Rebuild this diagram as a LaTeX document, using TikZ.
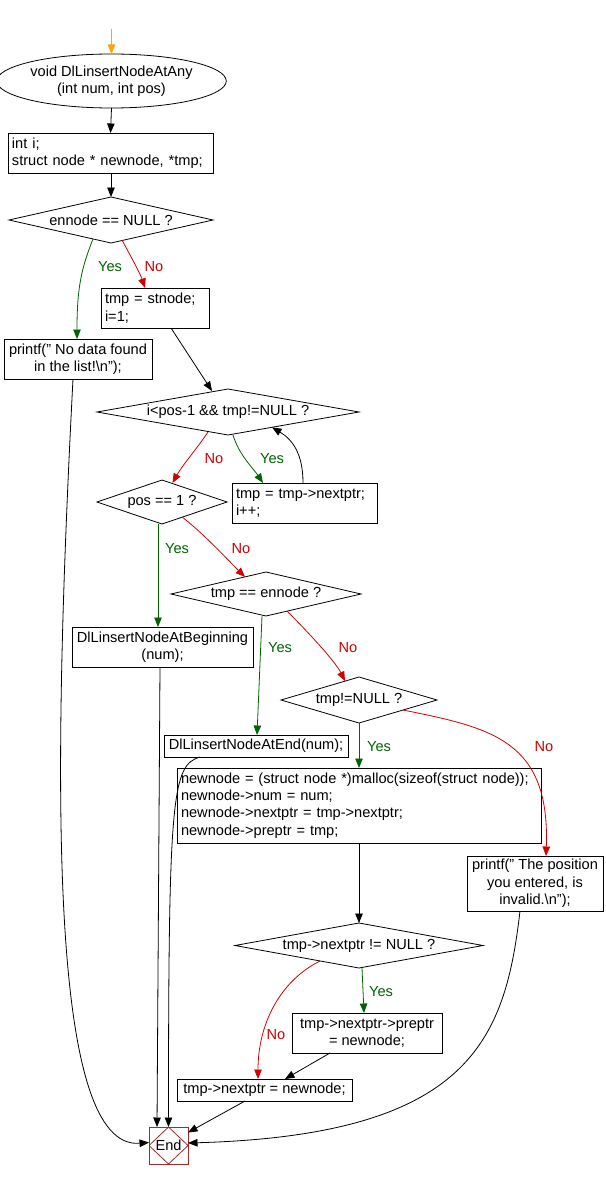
\documentclass[tikz,border=0pt]{standalone}
\usepackage{fontspec}
\setmainfont{Liberation Sans}
\usetikzlibrary{shapes.geometric,arrows.meta}
\definecolor{yesc}{RGB}{0,100,0}
\definecolor{noc}{RGB}{210,0,0}
\definecolor{endc}{RGB}{165,42,42}
\definecolor{startc}{RGB}{255,165,0}
\begin{document}
\begin{tikzpicture}[x=1pt,y=-1pt,
  font=\fontsize{14.6pt}{17.3pt}\selectfont,
  every node/.style={inner sep=0pt, outer sep=0pt},
  lbox/.style={draw, rectangle, line width=0.8pt, align=left, inner xsep=4pt},
  cbox/.style={draw, rectangle, line width=0.8pt, align=center},
  ell/.style={draw, ellipse, line width=0.8pt, align=center},
  dia/.style={draw, diamond, line width=0.8pt},
  endbox/.style={draw=endc, rectangle, line width=0.8pt,
    path picture={\draw[endc, line width=0.8pt] (path picture bounding box.north) -- (path picture bounding box.east) -- (path picture bounding box.south) -- (path picture bounding box.west) -- cycle;}},
  arr/.style={-{Triangle[length=9.5pt,width=7.5pt]}, line width=0.8pt},
  yesarr/.style={arr, draw=yesc},
  noarr/.style={arr, draw=noc},
  startarr/.style={arr, draw=startc},
  yesl/.style={text=yesc},
  nol/.style={text=noc}
]
\useasboundingbox (0,0) rectangle (605,1180);

% nodes
\node[ell, minimum width=191pt, minimum height=54pt] (st) at (111.5,81) {void DlLinsertNodeAtAny\\(int num, int pos)};
\node[lbox, minimum width=205pt, minimum height=40pt, text width=197pt] (b1) at (110.5,153) {int i;\\struct node * newnode, *tmp;};
\node[dia, minimum width=204pt, minimum height=46pt, aspect=4.4] (d1) at (111,220) {ennode == NULL ?};
\node[cbox, minimum width=148pt, minimum height=40pt] (p1) at (78,359) {printf(" No data found\\in the list!\textbackslash n");};
\node[lbox, minimum width=108pt, minimum height=40pt, text width=100pt] (b2) at (155,308) {tmp = stnode;\\i=1;};
\node[dia, minimum width=262pt, minimum height=46pt, aspect=5.7] (d2) at (228,412) {i<pos-1 \&\& tmp!=NULL ?};
\node[lbox, minimum width=145pt, minimum height=40pt, text width=137pt] (b3) at (304.5,503) {tmp = tmp->nextptr;\\i++;};
\node[dia, minimum width=130pt, minimum height=44pt, aspect=2.95] (d3) at (162,502) {pos == 1 ?};
\node[cbox, minimum width=181pt, minimum height=40pt] (b4) at (162.5,647) {DlLinsertNodeAtBeginning\\(num);};
\node[dia, minimum width=190pt, minimum height=44pt, aspect=4.3] (d4) at (266,594) {tmp == ennode ?};
\node[dia, minimum width=156pt, minimum height=46pt, aspect=3.4] (d5) at (359,700) {tmp!=NULL ?};
\node[cbox, minimum width=184pt, minimum height=22pt] (b5) at (256,746) {DlLinsertNodeAtEnd(num);};
\node[lbox, minimum width=364pt, minimum height=75pt, text width=356pt] (b6) at (359,805.5) {newnode = (struct node *)malloc(sizeof(struct node));\\newnode->num = num;\\newnode->nextptr = tmp->nextptr;\\newnode->preptr = tmp;};
\node[cbox, minimum width=136pt, minimum height=55pt] (b7) at (535,883.5) {printf(" The position\\you entered, is\\invalid.\textbackslash n");};
\node[dia, minimum width=248pt, minimum height=45pt, aspect=5.5] (d6) at (359,945.5) {tmp->nextptr != NULL ?};
\node[cbox, minimum width=150pt, minimum height=40pt] (b8) at (367,1033) {tmp->nextptr->preptr\\= newnode;};
\node[cbox, minimum width=175pt, minimum height=22pt] (b9) at (264.5,1090) {tmp->nextptr = newnode;};
\node[endbox, minimum width=39pt, minimum height=37pt] (en) at (168.5,1145.5) {End};

% labels
\node[yesl] (y1) at (110,267) {Yes};
\node[nol] (n1) at (154,267) {No};
\node[nol] (n2) at (214,459) {No};
\node[yesl] (y2) at (272,459) {Yes};
\node[yesl] (y3) at (177,549) {Yes};
\node[nol] (n3) at (241,549) {No};
\node[yesl] (y4) at (280,648) {Yes};
\node[nol] (n4) at (348,648) {No};
\node[yesl] (y5) at (379,747) {Yes};
\node[nol] (n5) at (544,747) {No};
\node[yesl] (y6) at (381,992) {Yes};
\node[nol] (n6) at (276,1035) {No};

% connectors
\coordinate (s0) at (111.5,29);
\draw[startarr] (s0) -- (st.north);
\draw[arr] (st.south) -- (b1.north);
\draw[arr] (d1.north |- b1.south) -- (d1.north);

\draw[yesarr] ([xshift=-18pt,yshift=4pt]d1.south) .. controls +(-12,30) and +(0,-50) .. ([xshift=-1pt]p1.north);
\draw[noarr] ([xshift=11pt,yshift=3pt]d1.south) .. controls +(8,15) and +(-5,-15) .. ([xshift=-10pt]b2.north);
\draw[arr] ([xshift=16pt]b2.south) -- ([xshift=-16pt,yshift=-2pt]d2.north);

\draw[noarr] ([xshift=-20pt,yshift=3pt]d2.south) .. controls +(-12,18) and +(10,-18) .. ([xshift=10.5pt,yshift=-3pt]d3.north);
\draw[yesarr] ([xshift=5pt]d2.south) .. controls +(6,20) and +(-10,-15) .. ([xshift=-41.5pt]b3.north);
\draw[arr] ([xshift=-1.5pt]b3.north) .. controls +(0,-30) and +(20,12) .. ([xshift=44pt,yshift=7.7pt]d2.south);

\draw[yesarr] ([xshift=-4pt]d3.south) -- ([xshift=-4.5pt]b4.north);
\draw[noarr] ([xshift=20pt,yshift=7pt]d3.south) .. controls +(20,15) and +(-15,-15) .. ([xshift=-21pt,yshift=-5pt]d4.north);

\draw[yesarr] ([xshift=-4pt]d4.south) -- ([xshift=1pt]b5.north);
\draw[noarr] ([xshift=21pt,yshift=5pt]d4.south) .. controls +(20,20) and +(-10,-20) .. ([xshift=-14pt,yshift=-4pt]d5.north);

\draw[yesarr] (d5.south) -- (b6.north);
\draw[noarr] ([xshift=44pt,yshift=13pt]d5.south) .. controls +(90,18) and +(4,-115) .. ([xshift=11pt]b7.north);

\draw[arr] (b6.south) -- (d6.north);
\draw[yesarr] ([xshift=3pt]d6.south) -- ([xshift=-3pt]b8.north);
\draw[noarr] ([xshift=-39pt,yshift=7pt]d6.south) .. controls +(-40,20) and +(0,-55) .. ([xshift=-6.5pt]b9.north);
\draw[arr] ([xshift=-37pt]b8.south) -- ([xshift=20.5pt]b9.north);

\draw[arr] ([xshift=-19.5pt]b9.south) -- ([yshift=13pt]en.east);
\draw[arr] ([xshift=-15pt]b7.south) .. controls +(-15,129) and +(282,-8) .. ([yshift=2.5pt]en.east);
\draw[arr] ([xshift=-5pt]p1.south) .. controls +(-22,421) and +(-99,8) .. ([yshift=3pt]en.west);
\draw[arr] ([xshift=-2.5pt]b4.south) -- ([xshift=-11.5pt]en.north);
\draw[arr] ([xshift=-56pt]b5.south) .. controls +(-28,8) and +(0,-330) .. (en.north);
\end{tikzpicture}
\end{document}
